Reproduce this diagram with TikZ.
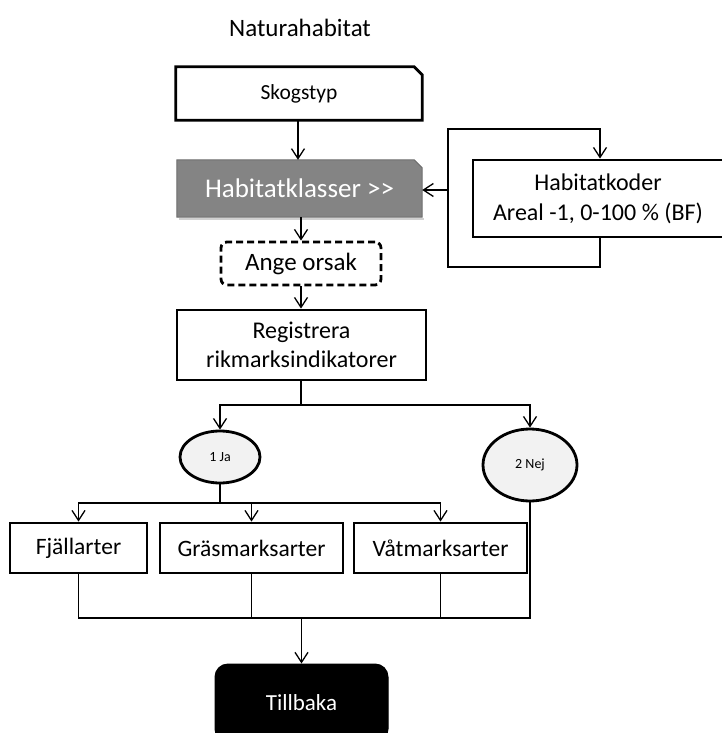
\documentclass[tikz,border=0pt]{standalone}
\usepackage{fontspec}
\setmainfont{Carlito}
\usetikzlibrary{arrows.meta,calc,shapes.geometric}
\definecolor{boxgray}{RGB}{132,132,132}
\definecolor{boxgrayline}{RGB}{110,110,110}
\definecolor{ovalfill}{RGB}{242,242,242}
\newcommand{\fs}[2]{\fontsize{#1}{#2}\selectfont}
\tikzset{
  conn/.style={line width=1.3pt},
  arr/.style={conn,-{Straight Barb[length=10pt,width=13pt,line width=1.3pt]}},
  thickbox/.style={draw,line width=2.8pt,inner sep=0pt,align=center},
  plainbox/.style={inner sep=0pt,align=center},
  oval/.style={draw,ellipse,line width=2.8pt,fill=ovalfill,inner sep=0pt},
}
\begin{document}
\begin{tikzpicture}[x=1pt,y=-1pt]
\useasboundingbox (0,0) rectangle (721,733);
% title
\node[plainbox,font=\fs{25}{30}] (title) at (300,28) {Naturahabitat};
% Skogstyp (cut corner)
\node[plainbox,minimum width=246pt,minimum height=53pt,font=\fs{21.5}{26}] (sk) at (299,93.5) {Skogstyp};
\draw[line width=2.8pt,line join=miter] (sk.south west) -- (sk.north west) -- ([xshift=-8pt]sk.north east) -- ([yshift=-8pt]sk.north east) -- (sk.south east) -- cycle;
% Habitatklasser (gray, cut corner)
\node[plainbox,minimum width=245pt,minimum height=57pt] (hk) at (299.5,188.5) {};
\fill[black!18] ([xshift=2pt,yshift=-3pt]hk.south west) rectangle ([xshift=2pt,yshift=-1pt]hk.south east);
\draw[line width=1pt,draw=boxgrayline,fill=boxgray] (hk.south west) -- (hk.north west) -- ([xshift=-8pt]hk.north east) -- ([yshift=-8pt]hk.north east) -- (hk.south east) -- cycle;
\node[plainbox,text=white,font=\fs{27}{32}] at (hk.center) {Habitatklasser >{}>};
% Habitatkoder
\node[thickbox,minimum width=250pt,minimum height=77pt,font=\fs{24}{30}] (kod) at (598,198.5) {Habitatkoder\\Areal -1, 0-100 \% (BF)};
% Ange orsak
\node[thickbox,dash pattern=on 7pt off 4pt,rounded corners=6pt,minimum width=160pt,minimum height=43pt,font=\fs{25}{30}] (ange) at (301,263.5) {Ange orsak};
% Registrera
\node[thickbox,minimum width=249pt,minimum height=70pt,font=\fs{24}{29}] (reg) at (301.5,345) {Registrera\\rikmarksindikatorer};
% ovals
\node[oval,minimum width=80pt,minimum height=52pt,font=\fs{14}{17}] (ja) at (220,457) {1 Ja};
\node[oval,minimum width=94pt,minimum height=72pt,font=\fs{14}{17}] (nej) at (530,465) {2 Nej};
% species boxes
\node[thickbox,minimum width=137pt,minimum height=50pt,font=\fs{23.5}{28}] (fj) at (78.5,548) {Fjällarter};
\node[thickbox,minimum width=183pt,minimum height=50pt,font=\fs{23.5}{28}] (gr) at (251.5,548) {Gräsmarksarter};
\node[thickbox,minimum width=173pt,minimum height=50pt,font=\fs{23.5}{28}] (vt) at (440.5,548) {Våtmarksarter};
% Tillbaka
\node[draw,fill=black,text=white,rounded corners=13pt,line width=1pt,inner sep=0pt,minimum width=173pt,minimum height=78pt,font=\fs{23}{28}] (tb) at (301.5,703) {Tillbaka};
% connectors
\draw[arr] (sk.south -| 298,0) -- (hk.north -| 298,0);
\draw[arr] (hk.south -| ange.north) -- (ange.north);
\draw[arr] (ange.south) -- (reg.north -| ange.south);
% loop
\coordinate (l1) at (600,267);
\coordinate (l2) at (448,267);
\coordinate (l3) at (448,129);
\coordinate (l4) at (600,129);
\coordinate (l5) at (448,190);
\draw[arr,line join=miter] (kod.south -| l1) -- (l1) -- (l2) -- (l3) -- (l4) -- (kod.north -| l4);
\draw[arr] (l5) -- (hk.east |- l5);
% branch to ovals
\coordinate (j1) at (301,405);
\draw[conn] (reg.south -| j1) -- (j1);
\draw[arr] (j1) -| (ja.north);
\draw[arr] (j1) -| (nej.north);
% branch to species
\coordinate (j2) at (220,503);
\draw[conn] (ja.south) -- (j2);
\draw[arr] (j2) -| (fj.north);
\draw[arr] (j2) -| (gr.north);
\draw[arr] (j2) -| (vt.north);
% merge
\coordinate (j3) at (301.5,618);
\draw[conn] (fj.south) |- (j3);
\draw[conn] (gr.south) |- (j3);
\draw[conn] (vt.south) |- (j3);
\draw[conn] (nej.south) |- (j3);
\draw[arr] (j3) -- (tb.north);
\end{tikzpicture}
\end{document}
